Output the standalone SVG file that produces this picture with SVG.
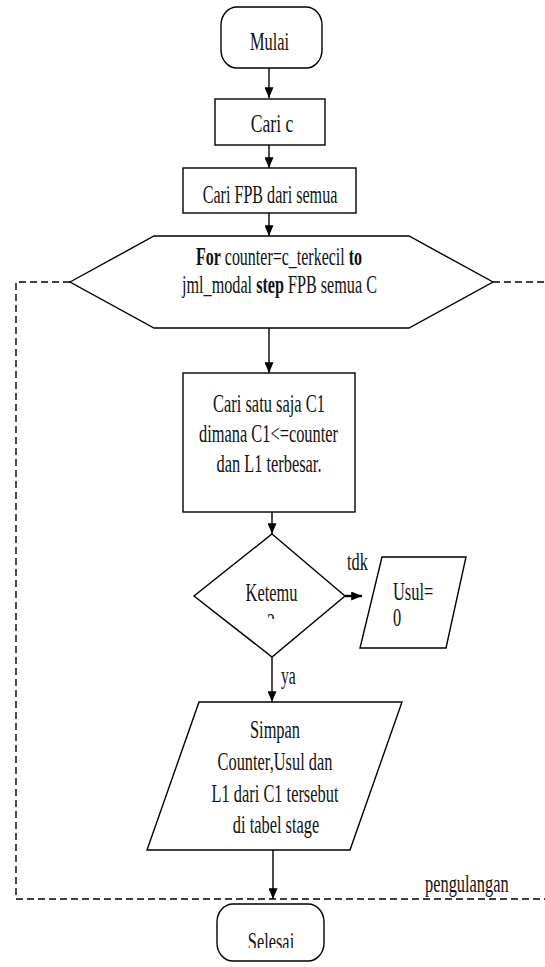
<svg xmlns="http://www.w3.org/2000/svg" width="545" height="967" viewBox="0 0 545 967">
<style>
.s{fill:#fff;stroke:#000;stroke-width:1.4}
.t{font-family:"Liberation Serif","Times New Roman",serif;font-size:26px;fill:#111}
.m{text-anchor:middle}
.b{font-weight:bold}
.c{fill:none;stroke:#000;stroke-width:1.4}
.d{fill:none;stroke:#000;stroke-width:1.4;stroke-dasharray:7 4}
</style>
<defs>
<marker id="ah" viewBox="0 0 12 10" refX="12" refY="5" markerWidth="11" markerHeight="9" markerUnits="userSpaceOnUse" orient="auto">
<path d="M0,0 L12,5 L0,10 z" fill="#000"/>
</marker>
<clipPath id="clipK"><rect x="190" y="530" width="160" height="89"/></clipPath>
<clipPath id="clipU"><rect x="355" y="550" width="120" height="91"/></clipPath>
<clipPath id="clipS"><rect x="200" y="900" width="140" height="48"/></clipPath>
</defs>

<g id="loop">
<path class="d" d="M70,282 H16 V899 H545"/>
<path class="d" d="M493,282 H545"/>
<text class="t" transform="translate(425,892) scale(0.63,1)">pengulangan</text>
</g>

<g id="connectors">
<line class="c" x1="269" y1="68" x2="269" y2="98" marker-end="url(#ah)"/>
<line class="c" x1="269" y1="145" x2="269" y2="168" marker-end="url(#ah)"/>
<line class="c" x1="269" y1="213" x2="269" y2="236" marker-end="url(#ah)"/>
<line class="c" x1="269" y1="328" x2="269" y2="373" marker-end="url(#ah)"/>
<line class="c" x1="272" y1="512" x2="272" y2="534" marker-end="url(#ah)"/>
<line class="c" style="stroke-width:2.4" x1="345" y1="596" x2="362" y2="596" marker-end="url(#ah)"/>
<line class="c" x1="272" y1="657" x2="272" y2="702" marker-end="url(#ah)"/>
<line class="c" x1="273" y1="850" x2="273" y2="899" marker-end="url(#ah)"/>
<text class="t" transform="translate(347,570) scale(0.63,1)">tdk</text>
<text class="t" transform="translate(281,684) scale(0.6,1)">ya</text>
</g>

<g id="mulai">
<rect class="s" x="221" y="7" width="101" height="61" rx="16" ry="18"/>
<text class="t m" transform="translate(269.5,50) scale(0.63,1)">Mulai</text>
</g>

<g id="caric">
<rect class="s" x="215" y="99" width="110" height="46"/>
<text class="t m" transform="translate(272,132) scale(0.68,1)">Cari c</text>
</g>

<g id="carifpb">
<rect class="s" x="183" y="168" width="173" height="45"/>
<text class="t m" transform="translate(270,203) scale(0.62,1)">Cari FPB dari semua</text>
</g>

<g id="for">
<polygon class="s" points="70,282 154,236 409,236 493,282 409,328 154,328"/>
<text class="t m" transform="translate(279,265) scale(0.615,1)"><tspan class="b">For</tspan> counter=c_terkecil <tspan class="b">to</tspan></text>
<text class="t m" transform="translate(279.5,293) scale(0.622,1)">jml_modal <tspan class="b">step</tspan> FPB semua C</text>
</g>

<g id="cari">
<rect class="s" x="183" y="373" width="172" height="139"/>
<text class="t m" transform="translate(269,412) scale(0.633,1)">Cari satu saja C1</text>
<text class="t m" transform="translate(268.5,442) scale(0.63,1)">dimana C1&lt;=counter</text>
<text class="t m" transform="translate(269,472) scale(0.63,1)">dan L1 terbesar.</text>
</g>

<g id="ketemu">
<polygon class="s" points="272,534 345,596 272,657 194,596"/>
<g clip-path="url(#clipK)">
<text class="t m" transform="translate(271.5,601) scale(0.63,1)">Ketemu</text>
<text class="t m" transform="translate(271,631) scale(0.63,1)">?</text>
</g>
</g>

<g id="usul">
<polygon class="s" points="382,557 466,557 446,648 360,648"/>
<g clip-path="url(#clipU)">
<text class="t" transform="translate(393,600) scale(0.63,1)">Usul=</text>
<text class="t" transform="translate(393,626) scale(0.63,1)">0</text>
</g>
</g>

<g id="simpan">
<polygon class="s" points="199,702 402,702 350,850 147,850"/>
<text class="t m" transform="translate(275,738) scale(0.63,1)">Simpan</text>
<text class="t m" transform="translate(275,770) scale(0.63,1)">Counter,Usul dan</text>
<text class="t m" transform="translate(275,802) scale(0.63,1)">L1 dari C1 tersebut</text>
<text class="t m" transform="translate(276,833) scale(0.63,1)">di tabel stage</text>
</g>

<g id="selesai">
<rect class="s" x="217" y="904" width="107" height="57" rx="16" ry="18"/>
<g clip-path="url(#clipS)">
<text class="t m" transform="translate(271,950) scale(0.63,1)">Selesai</text>
</g>
</g>
</svg>
